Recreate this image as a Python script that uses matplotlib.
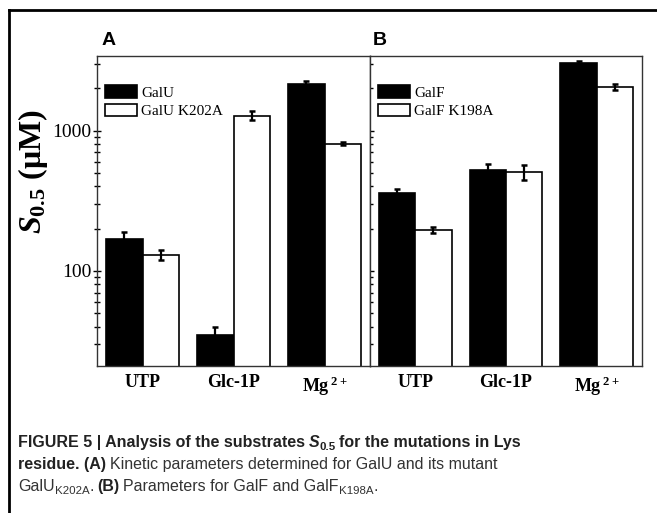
import matplotlib
matplotlib.use('Agg')
import matplotlib.pyplot as plt
from matplotlib.lines import Line2D
from matplotlib.patches import Patch
from matplotlib.ticker import FixedLocator, LogLocator, NullFormatter
import numpy as np

# ── datos ───────────────────────────────────────────────────────────────────
substrates = ['UTP', 'Glc-1P', 'Mg$^{\\;2+}$']

galu = [168, 35, 2150]
galu_err = [20, 5, 90]
galu_k202a = [130, 1280, 805]
galu_k202a_err = [10, 100, 20]

galf = [360, 520, 3020]
galf_err = [22, 60, 100]
galf_k198a = [197, 505, 2060]
galf_k198a_err = [10, 60, 100]

W, H = 657, 513

plt.rcParams['font.family'] = ['Liberation Serif']
plt.rcParams['mathtext.fontset'] = 'custom'
plt.rcParams['mathtext.rm'] = 'Liberation Serif:bold'
plt.rcParams['mathtext.bf'] = 'Liberation Serif:bold'
plt.rcParams['mathtext.it'] = 'Liberation Serif:italic:bold'

fig = plt.figure(figsize=(W / 100, H / 100), dpi=100)
fig.patch.set_facecolor('white')


def px_axes(x0, y0, x1, y1, **kw):
    return fig.add_axes([x0 / W, 1 - y1 / H, (x1 - x0) / W, (y1 - y0) / H], **kw)


axA = px_axes(97, 56, 370, 366)
axB = px_axes(370, 56, 642, 366, sharey=axA)

x = np.arange(len(substrates))
w = 0.4

panels = [
    (axA, galu, galu_err, galu_k202a, galu_k202a_err, ['GalU', 'GalU K202A']),
    (axB, galf, galf_err, galf_k198a, galf_k198a_err, ['GalF', 'GalF K198A']),
]

for ax, wt, wt_err, mut, mut_err, names in panels:
    ax.bar(x - w / 2, wt, w, color='black', edgecolor='black', linewidth=1.2, zorder=2)
    ax.bar(x + w / 2, mut, w, color='white', edgecolor='black', linewidth=1.2, zorder=2)
    ax.errorbar(x - w / 2, wt, yerr=wt_err, fmt='none', ecolor='black',
                elinewidth=1.6, capsize=2.2, capthick=1.8, zorder=3)
    ax.errorbar(x + w / 2, mut, yerr=mut_err, fmt='none', ecolor='black',
                elinewidth=1.6, capsize=2.2, capthick=1.8, zorder=3)
    ax.set_yscale('log')
    ax.set_xlim(-0.5, 2.5)
    ax.set_xticks(x)
    ax.set_xticklabels(substrates, fontweight='bold', fontsize=13)
    ax.tick_params(axis='x', length=0, pad=6)
    for s in ax.spines.values():
        s.set_linewidth(1.0)
        s.set_color('#333333')

    handles = [Patch(facecolor='black', edgecolor='black', linewidth=1.2),
               Patch(facecolor='white', edgecolor='black', linewidth=1.2)]
    ax.legend(handles, names, loc='upper left', frameon=False, fontsize=11,
              handlelength=2.15, handleheight=0.85, handletextpad=0.25,
              labelspacing=0.25, borderpad=0, borderaxespad=0,
              bbox_to_anchor=(0.028, 0.905))

axA.set_ylim(21, 3400)
axA.yaxis.set_major_locator(FixedLocator([100, 1000]))
axA.set_yticklabels(['100', '1000'], fontsize=14)
axA.yaxis.set_minor_locator(LogLocator(base=10, subs=np.arange(2, 10)))
axA.yaxis.set_minor_formatter(NullFormatter())
axA.tick_params(axis='y', which='major', direction='inout', length=6, width=1, pad=1)
axA.tick_params(axis='y', which='minor', direction='inout', length=3.8, width=1)

axB.tick_params(axis='y', which='major', direction='in', length=3.2, width=1, labelleft=False)
axB.tick_params(axis='y', which='minor', direction='in', length=2.2, width=1)

# título del eje y
fig.text(33 / W, 1 - 172 / H, '$\\mathit{S}_{\\mathrm{0.5}}$ (μM)', rotation=90,
         ha='center', va='center', fontsize=23, fontweight='bold')

# letras de panel
fig.text(102 / W, 1 - 45 / H, 'A', fontsize=14, fontweight='bold',
         family='Liberation Sans', va='baseline')
fig.text(373 / W, 1 - 45 / H, 'B', fontsize=14, fontweight='bold',
         family='Liberation Sans', va='baseline')

# marco exterior
fig.add_artist(Line2D([8.7 / W, 8.7 / W], [0, 1 - 9.7 / H], transform=fig.transFigure,
                      color='black', lw=2, solid_capstyle='projecting'))
fig.add_artist(Line2D([8.7 / W, 1], [1 - 9.7 / H, 1 - 9.7 / H], transform=fig.transFigure,
                      color='black', lw=2, solid_capstyle='projecting'))

# ── leyenda de la figura (texto con estilos mezclados) ──────────────────────
renderer = fig.canvas.get_renderer()
cap_family = ['Liberation Sans Narrow', 'Liberation Sans']
cap_size = 11.5
space = 3.6


def put_line(x0, base, pieces):
    xp = x0
    for txt, bold, italic, sub, gap in pieces:
        xp += gap
        size = cap_size * (0.72 if sub else 1.0)
        yb = base + (3.5 if sub else 0)
        t = fig.text(xp / W, 1 - yb / H, txt, ha='left', va='baseline',
                     fontsize=size, family=cap_family,
                     fontweight='bold' if bold else 'normal',
                     fontstyle='italic' if italic else 'normal',
                     color='#222222' if bold else '#333333')
        xp += t.get_window_extent(renderer).width


put_line(18, 447, [
    ('FIGURE 5 | Analysis of the substrates', True, False, False, 0),
    ('S', True, True, False, space),
    ('0.5', True, False, True, 0),
    ('for the mutations in Lys', True, False, False, space),
])
put_line(18, 469, [
    ('residue. (A)', True, False, False, 0),
    ('Kinetic parameters determined for GalU and its mutant', False, False, False, space),
])
put_line(18, 491, [
    ('GalU', False, False, False, 0),
    ('K202A', False, False, True, 0),
    ('.', False, False, False, 0),
    ('(B)', True, False, False, space),
    ('Parameters for GalF and GalF', False, False, False, space),
    ('K198A', False, False, True, 0),
    ('.', False, False, False, 0),
])

fig.savefig('out.png', dpi=100, facecolor='white')
